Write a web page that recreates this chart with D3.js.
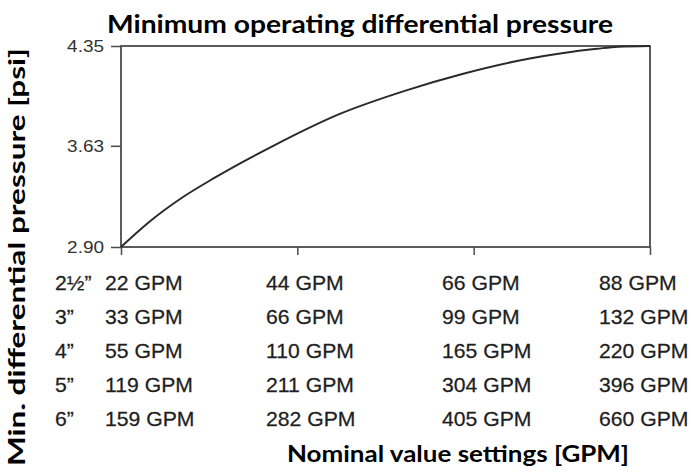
<!DOCTYPE html>
<html><head><meta charset="utf-8">
<script src="https://cdn.jsdelivr.net/npm/d3@7"></script>
<style>body{margin:0;background:#fff}svg{display:block}</style>
</head><body>
<svg id="c" width="691" height="472"></svg>
<script>
// ---- data ----
const curveGPM = [22, 25.4, 29.6, 33.7, 41, 49.3, 57.6, 64.7, 73, 77.2, 81.4, 84, 88];
const curvePSI = [2.90, 3.075, 3.255, 3.40, 3.63, 3.86, 4.03, 4.15, 4.26, 4.30, 4.33, 4.345, 4.35];
const yTicks = [2.90, 3.63, 4.35];
const xTicks = [22, 44, 66, 88];
const sizes = ["2½\u201D", "3\u201D", "4\u201D", "5\u201D", "6\u201D"];
const gpmCol1 = [22, 33, 55, 119, 159];
const gpmCol2 = [44, 66, 110, 211, 282];
const gpmCol3 = [66, 99, 165, 304, 405];
const gpmCol4 = [88, 132, 220, 396, 660];
const titleText = "Minimum operating differential pressure";
const yLabel = "Min. differential pressure [psi]";
const xLabel = "Nominal value settings [GPM]";

// ---- layout ----
const svg = d3.select("#c");
const L = 121, R = 650, T = 46, B = 247;
const x = d3.scaleLinear().domain([22, 88]).range([L, R]);
const y = d3.scaleLinear().domain([2.90, 4.35]).range([B, T]);
const ink = "#1e1e1e";
const frame = "#4a4a4a";

// frame
svg.append("rect").attr("x", L).attr("y", T).attr("width", R - L).attr("height", B - T)
  .attr("fill", "none").attr("stroke", frame).attr("stroke-width", 1.8);

// y axis
const yAx = svg.append("g").attr("transform", `translate(${L},0)`)
  .call(d3.axisLeft(y).tickValues(yTicks).tickFormat(d3.format(".2f")).tickSize(10).tickPadding(7));
yAx.select(".domain").remove();
yAx.selectAll("line").attr("stroke", frame).attr("stroke-width", 1.5);
yAx.selectAll("text").attr("font-family", "'Liberation Sans', Arial, sans-serif")
  .attr("font-size", 16.5).attr("fill", "#333").attr("dy", "0.35em")
  .each(function(){
    const t = d3.select(this);
    const xx = +t.attr("x"), yy = +t.attr("y") || 0;
    t.attr("transform", `translate(${xx},${yy}) scale(1.15,1)`).attr("x", 0).attr("y", 0);
  });

// x axis ticks (labels are the table below)
const xAx = svg.append("g").attr("transform", `translate(0,${B})`)
  .call(d3.axisBottom(x).tickValues(xTicks).tickSize(8).tickFormat(""));
xAx.select(".domain").remove();
xAx.selectAll("line").attr("stroke", frame).attr("stroke-width", 1.5);

// curve
const pts = curveGPM.map((g, i) => [g, curvePSI[i]]);
svg.append("path").datum(pts)
  .attr("d", d3.line().x(d => x(d[0])).y(d => y(d[1])).curve(d3.curveMonotoneX))
  .attr("fill", "none").attr("stroke", "#2a2a2a").attr("stroke-width", 2);

// table
const rowY = [290, 324, 358, 392, 426];
const colX = [105, 266, 442, 599];
const cols = [gpmCol1, gpmCol2, gpmCol3, gpmCol4];
const tf = "'Liberation Sans', Arial, sans-serif";
function stretchText(g, tx, ty, s, size, sx) {
  g.append("text").attr("transform", `translate(${tx},${ty}) scale(${sx},1)`)
    .attr("font-family", tf).attr("font-size", size).attr("fill", ink)
    .attr("stroke", ink).attr("stroke-width", 0.25).text(s);
}
const tbl = svg.append("g");
sizes.forEach((s, i) => stretchText(tbl, 55, rowY[i], s, 20, 1.06));
cols.forEach((col, c) => col.forEach((v, i) => stretchText(tbl, colX[c], rowY[i], v + " GPM", 20, 1.06)));

// titles
const bf = "Lato, 'Open Sans', sans-serif";
svg.append("text").attr("x", 107).attr("y", 33).attr("font-family", bf).attr("font-weight", 700)
  .attr("font-size", 25).attr("fill", "#000").attr("textLength", 506).attr("lengthAdjust", "spacingAndGlyphs")
  .text(titleText);
svg.append("text").attr("transform", "translate(25,466) rotate(-90)").attr("font-family", bf)
  .attr("font-weight", 700).attr("font-size", 22).attr("fill", "#000")
  .attr("textLength", 418).attr("lengthAdjust", "spacingAndGlyphs").text(yLabel);
svg.append("text").attr("x", 287).attr("y", 462).attr("font-family", bf).attr("font-weight", 700)
  .attr("font-size", 23).attr("fill", "#000").attr("textLength", 342).attr("lengthAdjust", "spacingAndGlyphs")
  .text(xLabel);
</script>
</body></html>
